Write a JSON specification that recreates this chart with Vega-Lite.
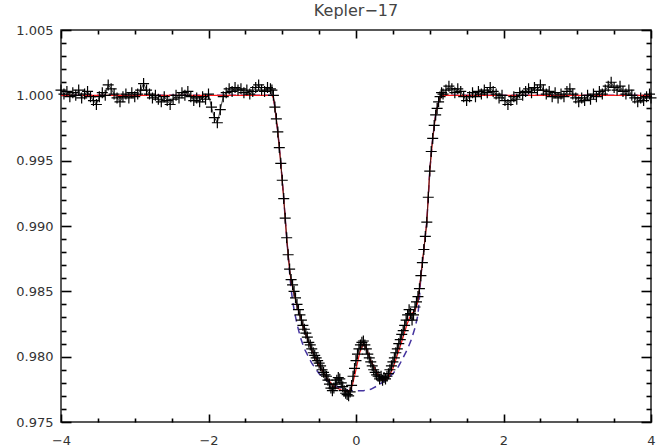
{
 "$schema": "https://vega.github.io/schema/vega-lite/v6.json",
 "width": 590,
 "height": 392,
 "autosize": {"type": "none"},
 "padding": {"left": 61, "top": 30, "right": 13, "bottom": 25},
 "background": "white",
 "title": {"text": "Kepler−17", "fontSize": 16, "font": "DejaVu Sans", "fontWeight": "normal", "color": "#444444", "offset": 5},
 "config": {
  "view": {"stroke": "#222222", "strokeWidth": 1.5},
  "axis": {"labelFont": "DejaVu Sans", "labelFontSize": 13, "labelColor": "#333333"}
 },
 "datasets": {
  "obs": [
   {"x":-4.00,"y":1.0004},{"x":-3.96,"y":1.0001},{"x":-3.92,"y":1.0003},{"x":-3.88,"y":0.9999},{"x":-3.84,"y":1.0002},{"x":-3.80,"y":1.0000},{"x":-3.76,"y":1.0004},{"x":-3.72,"y":0.9998},{"x":-3.68,"y":1.0001},{"x":-3.64,"y":1.0003},{"x":-3.60,"y":0.9999},{"x":-3.56,"y":0.9996},{"x":-3.52,"y":0.9993},{"x":-3.48,"y":0.9999},{"x":-3.44,"y":1.0002},{"x":-3.40,"y":1.0000},{"x":-3.36,"y":1.0008},{"x":-3.32,"y":1.0005},{"x":-3.28,"y":1.0001},{"x":-3.24,"y":0.9998},{"x":-3.20,"y":0.9995},{"x":-3.16,"y":0.9999},{"x":-3.12,"y":1.0001},{"x":-3.08,"y":0.9998},{"x":-3.04,"y":1.0002},{"x":-3.00,"y":0.9999},{"x":-2.96,"y":1.0001},{"x":-2.92,"y":1.0004},{"x":-2.88,"y":1.0009},{"x":-2.84,"y":1.0004},{"x":-2.80,"y":1.0001},{"x":-2.76,"y":0.9998},{"x":-2.72,"y":1.0000},{"x":-2.68,"y":0.9997},{"x":-2.64,"y":0.9995},{"x":-2.60,"y":0.9999},{"x":-2.56,"y":0.9996},{"x":-2.52,"y":0.9993},{"x":-2.48,"y":0.9997},{"x":-2.44,"y":1.0000},{"x":-2.40,"y":0.9998},{"x":-2.36,"y":1.0002},{"x":-2.32,"y":1.0000},{"x":-2.28,"y":1.0003},{"x":-2.24,"y":0.9999},{"x":-2.20,"y":0.9996},{"x":-2.16,"y":0.9998},{"x":-2.12,"y":0.9995},{"x":-2.08,"y":0.9999},{"x":-2.04,"y":0.9997},{"x":-2.00,"y":1.0001},{"x":-1.96,"y":0.9991},{"x":-1.92,"y":0.9983},{"x":-1.88,"y":0.9979},{"x":-1.84,"y":0.9989},{"x":-1.80,"y":0.9999},{"x":-1.76,"y":1.0002},{"x":-1.72,"y":1.0005},{"x":-1.68,"y":1.0003},{"x":-1.64,"y":1.0006},{"x":-1.60,"y":1.0004},{"x":-1.56,"y":1.0005},{"x":-1.52,"y":1.0002},{"x":-1.48,"y":1.0004},{"x":-1.44,"y":1.0001},{"x":-1.40,"y":1.0003},{"x":-1.36,"y":1.0006},{"x":-1.32,"y":1.0008},{"x":-1.28,"y":1.0004},{"x":-1.24,"y":1.0003},{"x":-1.20,"y":1.0006},{"x":-1.16,"y":1.0005},
   {"x":-1.14,"y":1.0004},{"x":-1.12,"y":1.0000},{"x":-1.10,"y":0.9991},{"x":-1.08,"y":0.9982},{"x":-1.06,"y":0.9972},{"x":-1.04,"y":0.9960},{"x":-1.02,"y":0.9948},{"x":-1.00,"y":0.9935},{"x":-0.98,"y":0.9921},{"x":-0.96,"y":0.9906},{"x":-0.94,"y":0.9891},{"x":-0.92,"y":0.9878},{"x":-0.90,"y":0.9867},{"x":-0.88,"y":0.9859},{"x":-0.86,"y":0.9855},{"x":-0.84,"y":0.9850},{"x":-0.82,"y":0.9845},{"x":-0.80,"y":0.9840},{"x":-0.78,"y":0.9836},{"x":-0.76,"y":0.9832},{"x":-0.74,"y":0.9828},{"x":-0.72,"y":0.9824},{"x":-0.70,"y":0.9821},{"x":-0.68,"y":0.9818},{"x":-0.66,"y":0.9815},{"x":-0.64,"y":0.9811},{"x":-0.62,"y":0.9809},{"x":-0.60,"y":0.9806},{"x":-0.58,"y":0.9803},{"x":-0.56,"y":0.9801},{"x":-0.54,"y":0.9799},{"x":-0.52,"y":0.9797},{"x":-0.50,"y":0.9795},{"x":-0.48,"y":0.9793},{"x":-0.46,"y":0.9790},{"x":-0.44,"y":0.9788},{"x":-0.42,"y":0.9786},{"x":-0.40,"y":0.9785},{"x":-0.38,"y":0.9782},{"x":-0.36,"y":0.9779},{"x":-0.34,"y":0.9776},{"x":-0.32,"y":0.9774},{"x":-0.30,"y":0.9776},{"x":-0.28,"y":0.9779},{"x":-0.26,"y":0.9782},{"x":-0.24,"y":0.9784},{"x":-0.22,"y":0.9783},{"x":-0.20,"y":0.9780},{"x":-0.18,"y":0.9777},{"x":-0.16,"y":0.9774},{"x":-0.14,"y":0.9772},{"x":-0.12,"y":0.9771},{"x":-0.10,"y":0.9770},{"x":-0.08,"y":0.9773},{"x":-0.06,"y":0.9778},{"x":-0.04,"y":0.9785},{"x":-0.02,"y":0.9791},{"x":0.00,"y":0.9797},{"x":0.02,"y":0.9802},{"x":0.04,"y":0.9806},{"x":0.06,"y":0.9809},{"x":0.08,"y":0.9811},{"x":0.10,"y":0.9812},{"x":0.12,"y":0.9809},{"x":0.14,"y":0.9806},{"x":0.16,"y":0.9802},{"x":0.18,"y":0.9799},{"x":0.20,"y":0.9796},{"x":0.22,"y":0.9793},{"x":0.24,"y":0.9790},{"x":0.26,"y":0.9788},{"x":0.28,"y":0.9786},{"x":0.30,"y":0.9785},{"x":0.32,"y":0.9783},{"x":0.34,"y":0.9785},{"x":0.36,"y":0.9782},{"x":0.38,"y":0.9784},{"x":0.40,"y":0.9783},{"x":0.42,"y":0.9785},{"x":0.44,"y":0.9787},{"x":0.46,"y":0.9790},{"x":0.48,"y":0.9793},{"x":0.50,"y":0.9796},{"x":0.52,"y":0.9799},{"x":0.54,"y":0.9803},{"x":0.56,"y":0.9806},{"x":0.58,"y":0.9810},{"x":0.60,"y":0.9813},{"x":0.62,"y":0.9817},{"x":0.64,"y":0.9820},{"x":0.66,"y":0.9824},{"x":0.68,"y":0.9828},{"x":0.70,"y":0.9832},{"x":0.72,"y":0.9836},{"x":0.74,"y":0.9833},{"x":0.76,"y":0.9828},{"x":0.78,"y":0.9832},{"x":0.80,"y":0.9838},{"x":0.82,"y":0.9842},{"x":0.84,"y":0.9846},{"x":0.86,"y":0.9852},{"x":0.88,"y":0.9862},{"x":0.90,"y":0.9872},{"x":0.92,"y":0.9882},{"x":0.94,"y":0.9892},{"x":0.96,"y":0.9903},{"x":0.98,"y":0.9922},{"x":1.00,"y":0.9942},{"x":1.02,"y":0.9957},{"x":1.04,"y":0.9967},{"x":1.06,"y":0.9977},{"x":1.08,"y":0.9985},{"x":1.10,"y":0.9990},{"x":1.12,"y":0.9995},{"x":1.14,"y":0.9999},{"x":1.16,"y":1.0002},
   {"x":1.18,"y":1.0001},{"x":1.22,"y":1.0004},{"x":1.26,"y":1.0007},{"x":1.30,"y":1.0005},{"x":1.34,"y":1.0002},{"x":1.38,"y":1.0005},{"x":1.42,"y":1.0003},{"x":1.46,"y":0.9999},{"x":1.50,"y":0.9996},{"x":1.54,"y":0.9999},{"x":1.58,"y":1.0002},{"x":1.62,"y":0.9999},{"x":1.66,"y":1.0003},{"x":1.70,"y":1.0001},{"x":1.74,"y":1.0004},{"x":1.78,"y":1.0002},{"x":1.82,"y":1.0006},{"x":1.86,"y":1.0003},{"x":1.90,"y":1.0001},{"x":1.94,"y":0.9998},{"x":1.98,"y":1.0000},{"x":2.02,"y":0.9996},{"x":2.06,"y":0.9993},{"x":2.10,"y":0.9996},{"x":2.14,"y":0.9999},{"x":2.18,"y":0.9997},{"x":2.22,"y":1.0002},{"x":2.26,"y":1.0000},{"x":2.30,"y":1.0003},{"x":2.34,"y":1.0005},{"x":2.38,"y":1.0002},{"x":2.42,"y":1.0006},{"x":2.46,"y":1.0004},{"x":2.50,"y":1.0008},{"x":2.54,"y":1.0004},{"x":2.58,"y":1.0001},{"x":2.62,"y":1.0003},{"x":2.66,"y":0.9999},{"x":2.70,"y":1.0002},{"x":2.74,"y":0.9998},{"x":2.78,"y":1.0001},{"x":2.82,"y":0.9999},{"x":2.86,"y":1.0003},{"x":2.90,"y":1.0005},{"x":2.94,"y":1.0001},{"x":2.98,"y":0.9998},{"x":3.02,"y":0.9995},{"x":3.06,"y":0.9998},{"x":3.10,"y":0.9996},{"x":3.14,"y":1.0000},{"x":3.18,"y":0.9997},{"x":3.22,"y":1.0001},{"x":3.26,"y":0.9999},{"x":3.30,"y":1.0003},{"x":3.34,"y":1.0001},{"x":3.38,"y":1.0004},{"x":3.42,"y":1.0007},{"x":3.46,"y":1.0010},{"x":3.50,"y":1.0006},{"x":3.54,"y":1.0004},{"x":3.58,"y":1.0007},{"x":3.62,"y":1.0003},{"x":3.66,"y":1.0001},{"x":3.70,"y":1.0004},{"x":3.74,"y":1.0000},{"x":3.78,"y":0.9998},{"x":3.82,"y":0.9995},{"x":3.86,"y":0.9998},{"x":3.90,"y":0.9996},{"x":3.94,"y":0.9999},{"x":3.98,"y":1.0001},{"x":4.00,"y":0.9998}
  ],
  "spotted": [
   {"x":-4,"y":1.0},{"x":-1.14,"y":1.0},{"x":-1.12,"y":0.9998},{"x":-1.10,"y":0.9991},{"x":-1.06,"y":0.9972},{"x":-1.02,"y":0.9948},{"x":-0.98,"y":0.9921},{"x":-0.94,"y":0.9891},{"x":-0.90,"y":0.9866},{"x":-0.88,"y":0.9858},{"x":-0.84,"y":0.9848},{"x":-0.80,"y":0.9839},{"x":-0.70,"y":0.9820},{"x":-0.60,"y":0.9805},{"x":-0.50,"y":0.9793},{"x":-0.40,"y":0.9784},{"x":-0.30,"y":0.9777},{"x":-0.20,"y":0.97745},{"x":-0.10,"y":0.9773},{"x":-0.05,"y":0.9778},{"x":0.0,"y":0.9790},{"x":0.05,"y":0.9803},{"x":0.10,"y":0.9810},{"x":0.15,"y":0.9805},{"x":0.20,"y":0.9797},{"x":0.30,"y":0.9786},{"x":0.35,"y":0.9782},{"x":0.40,"y":0.9782},{"x":0.45,"y":0.9785},{"x":0.50,"y":0.9791},{"x":0.60,"y":0.9808},{"x":0.70,"y":0.9826},{"x":0.75,"y":0.9833},{"x":0.80,"y":0.9835},{"x":0.84,"y":0.9842},{"x":0.88,"y":0.9862},{"x":0.92,"y":0.9882},{"x":0.96,"y":0.9903},{"x":1.00,"y":0.9942},{"x":1.04,"y":0.9967},{"x":1.08,"y":0.9985},{"x":1.12,"y":0.9995},{"x":1.16,"y":1.0},{"x":4,"y":1.0}
  ],
  "unspotted": [
   {"x":-4,"y":1.0},{"x":-1.14,"y":1.0},{"x":-1.12,"y":0.9998},{"x":-1.10,"y":0.9991},{"x":-1.06,"y":0.9972},{"x":-1.02,"y":0.9948},{"x":-0.98,"y":0.9921},{"x":-0.94,"y":0.9891},{"x":-0.90,"y":0.9864},{"x":-0.88,"y":0.9852},{"x":-0.86,"y":0.9843},{"x":-0.84,"y":0.9836},{"x":-0.80,"y":0.9825},{"x":-0.75,"y":0.9814},{"x":-0.70,"y":0.9806},{"x":-0.60,"y":0.9795},{"x":-0.50,"y":0.9787},{"x":-0.40,"y":0.9782},{"x":-0.30,"y":0.9778},{"x":-0.20,"y":0.9776},{"x":-0.10,"y":0.9774},{"x":0.0,"y":0.9774},{"x":0.10,"y":0.9774},{"x":0.20,"y":0.9775},{"x":0.30,"y":0.9778},{"x":0.40,"y":0.9782},{"x":0.50,"y":0.9787},{"x":0.56,"y":0.9791},{"x":0.60,"y":0.9795},{"x":0.70,"y":0.9806},{"x":0.75,"y":0.9813},{"x":0.80,"y":0.9822},{"x":0.84,"y":0.9832},{"x":0.86,"y":0.9845},{"x":0.88,"y":0.9862},{"x":0.92,"y":0.9882},{"x":0.96,"y":0.9903},{"x":1.00,"y":0.9942},{"x":1.04,"y":0.9967},{"x":1.08,"y":0.9985},{"x":1.12,"y":0.9995},{"x":1.16,"y":1.0},{"x":4,"y":1.0}
  ]
 },
 "layer": [
  {
   "data": {"name": "unspotted"},
   "mark": {"type": "line", "color": "#45349f", "strokeWidth": 1.5, "strokeDash": [7, 5]},
   "encoding": {
    "x": {"field": "x", "type": "quantitative", "scale": {"domain": [-4, 4], "nice": false, "zero": false},
     "axis": {"orient": "bottom", "values": [-4, -2, 0, 2, 4], "format": "d", "offset": -8, "tickSize": 8, "labelPadding": 12, "tickColor": "black", "tickWidth": 1.6, "domain": false, "grid": false, "title": null, "labelFlush": false, "labelOverlap": false}},
    "y": {"field": "y", "type": "quantitative", "scale": {"domain": [0.975, 1.005], "nice": false, "zero": false},
     "axis": {"orient": "left", "values": [0.975, 0.98, 0.985, 0.99, 0.995, 1.0, 1.005], "format": ".3f", "offset": -10, "tickSize": 10, "labelPadding": 8, "tickColor": "black", "tickWidth": 1.6, "domain": false, "grid": false, "title": null, "labelFlush": false, "labelOverlap": false}}
   }
  },
  {
   "data": {"name": "spotted"},
   "mark": {"type": "line", "color": "#ff1a1a", "strokeWidth": 1.2},
   "encoding": {
    "x": {"field": "x", "type": "quantitative",
     "axis": {"orient": "top", "values": [-4, -2, 0, 2, 4], "labels": false, "offset": -8, "tickSize": 8, "tickColor": "black", "tickWidth": 1.6, "domain": false, "grid": false, "title": null}},
    "y": {"field": "y", "type": "quantitative",
     "axis": {"orient": "right", "values": [0.975, 0.98, 0.985, 0.99, 0.995, 1.0, 1.005], "labels": false, "offset": -10, "tickSize": 10, "tickColor": "black", "tickWidth": 1.6, "domain": false, "grid": false, "title": null}}
   }
  },
  {
   "data": {"name": "obs"},
   "mark": {"type": "line", "color": "#111111", "strokeWidth": 0.8},
   "encoding": {
    "x": {"field": "x", "type": "quantitative",
     "axis": {"orient": "bottom", "values": [-3.5,-3,-2.5,-1.5,-1,-0.5,0.5,1,1.5,2.5,3,3.5], "labels": false, "offset": -4, "tickSize": 4, "tickColor": "black", "tickWidth": 1.6, "domain": false, "grid": false, "title": null}},
    "y": {"field": "y", "type": "quantitative",
     "axis": {"orient": "left", "values": [0.976,0.977,0.978,0.979,0.981,0.982,0.983,0.984,0.986,0.987,0.988,0.989,0.991,0.992,0.993,0.994,0.996,0.997,0.998,0.999,1.001,1.002,1.003,1.004], "labels": false, "offset": -5, "tickSize": 5, "tickColor": "black", "tickWidth": 1.6, "domain": false, "grid": false, "title": null}}
   }
  },
  {
   "data": {"name": "obs"},
   "mark": {"type": "point", "shape": "M-1,0L1,0M0,-1L0,1", "size": 121, "filled": false, "stroke": "#000000", "strokeWidth": 1.2, "opacity": 1},
   "encoding": {
    "x": {"field": "x", "type": "quantitative",
     "axis": {"orient": "top", "values": [-3.5,-3,-2.5,-1.5,-1,-0.5,0.5,1,1.5,2.5,3,3.5], "labels": false, "offset": -4, "tickSize": 4, "tickColor": "black", "tickWidth": 1.6, "domain": false, "grid": false, "title": null}},
    "y": {"field": "y", "type": "quantitative",
     "axis": {"orient": "right", "values": [0.976,0.977,0.978,0.979,0.981,0.982,0.983,0.984,0.986,0.987,0.988,0.989,0.991,0.992,0.993,0.994,0.996,0.997,0.998,0.999,1.001,1.002,1.003,1.004], "labels": false, "offset": -5, "tickSize": 5, "tickColor": "black", "tickWidth": 1.6, "domain": false, "grid": false, "title": null}}
   }
  }
 ],
 "resolve": {"axis": {"x": "independent", "y": "independent"}}
}
